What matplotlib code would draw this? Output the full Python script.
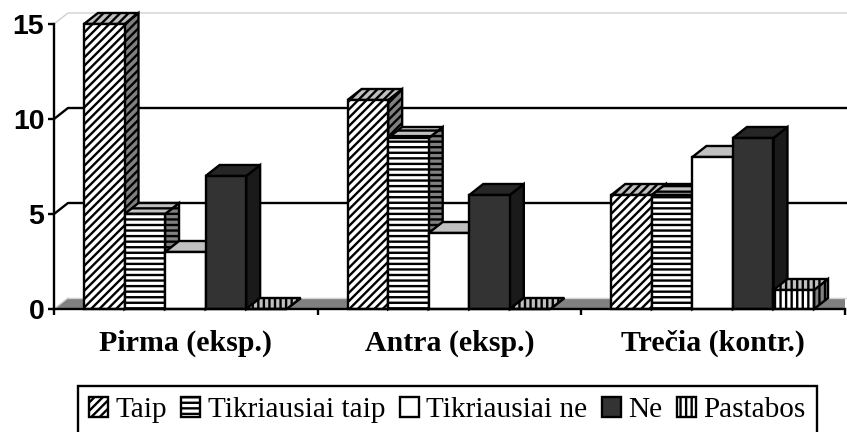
import matplotlib
matplotlib.use("Agg")
import matplotlib.pyplot as plt
from matplotlib.patches import Patch, Polygon

categories = ["Pirma (eksp.)", "Antra (eksp.)", "Trečia (kontr.)"]
series_names = ["Taip", "Tikriausiai taip", "Tikriausiai ne", "Ne", "Pastabos"]
taip = [15, 11, 6]
tikriausiai_taip = [5, 9, 6]
tikriausiai_ne = [3, 4, 8]
ne = [7, 6, 9]
pastabos = [0, 0, 1]
y_ticks = [0, 5, 10, 15]

series = [taip, tikriausiai_taip, tikriausiai_ne, ne, pastabos]
# front, top, side colours and hatch per series
styles = [
    ("white", "#c0c0c0", "#808080", "////"),
    ("white", "#c0c0c0", "#808080", "---"),
    ("white", "#c0c0c0", "#808080", ""),
    ("#333333", "#262626", "#1a1a1a", ""),
    ("white", "#c0c0c0", "#808080", "|||"),
]

W, H = 847, 432
plt.rcParams["hatch.linewidth"] = 1.7

fig = plt.figure(figsize=(W / 100, H / 100), dpi=100)
ax = fig.add_axes([54 / W, 1 - 309 / H, 791 / W, 285 / H])
ax.set_xlim(0, 3)
ax.set_ylim(0, 15)
ax.patch.set_visible(False)

# 3d depth in data units
dx = 14 / 264
dy = 11 / 19
bw = 40.6 / 264
start = 30 / 264
right = 3.01

# walls and floor
ax.add_patch(Polygon([(0, 0), (dx, dy), (right, dy), (right, 0)], fc="#808080", ec="none", zorder=1))
ax.plot([0, dx, right], [15, 15 + dy, 15 + dy], color="#d0d0d0", lw=1, clip_on=False, zorder=1)
ax.plot([dx, right], [dy, dy], color="#d0d0d0", lw=1, zorder=1, clip_on=False)
ax.plot([0, dx], [0, dy], color="#d0d0d0", lw=1, zorder=1)
for v in y_ticks[1:3]:
    ax.plot([0, dx, right], [v, v + dy, v + dy], color="black", lw=1.7, zorder=1, clip_on=False)

z = 3
for g in range(len(categories)):
    for s, vals in enumerate(series):
        v = vals[g]
        x0 = g + start + s * bw
        x1 = x0 + bw
        front, top, side, hatch = styles[s]
        ax.add_patch(Polygon([(x1, 0), (x1 + dx, dy), (x1 + dx, v + dy), (x1, v)],
                             fc=side, ec="black", lw=1.7, hatch=hatch, zorder=z, clip_on=False))
        ax.add_patch(Polygon([(x0, v), (x0 + dx, v + dy), (x1 + dx, v + dy), (x1, v)],
                             fc=top, ec="black", lw=1.7, hatch=hatch, zorder=z, clip_on=False))
        ax.bar(x0, v, bw, align="edge", color=front, edgecolor="black", lw=1.7, hatch=hatch, zorder=z, clip_on=False)
        z += 1

for sp in ["top", "right"]:
    ax.spines[sp].set_visible(False)
for sp in ["left", "bottom"]:
    ax.spines[sp].set_linewidth(1.7)
    ax.spines[sp].set_zorder(100)

ax.set_yticks(y_ticks)
ax.set_yticklabels([str(v) for v in y_ticks], family="Liberation Sans", weight="bold", fontsize=20.5)
ax.tick_params(axis="y", length=4, width=1.7, pad=3)
ax.set_xticks(range(len(categories) + 1))
ax.set_xticklabels([])
ax.tick_params(axis="x", which="major", length=4, width=1.7)
ax.set_xticks([i + 0.5 for i in range(len(categories))], minor=True)
ax.set_xticklabels(categories, minor=True, family="Liberation Serif", weight="bold", fontsize=21.5)
ax.tick_params(axis="x", which="minor", length=0, pad=15)

handles = [Patch(fc=st[0], ec="black", lw=1.7, hatch=st[3]) for st in styles]
leg = fig.legend(handles, series_names, ncol=5, loc="upper left",
                 bbox_to_anchor=(77.5 / W, 1 - 386 / H), borderaxespad=0,
                 prop={"family": "Liberation Serif", "size": 21.1},
                 fancybox=False, framealpha=1, edgecolor="black",
                 handlelength=0.65, handleheight=0.65, handletextpad=0.25,
                 columnspacing=0.5, borderpad=0.38)
leg.get_frame().set_linewidth(1.7)

fig.savefig("out.png", dpi=100)
